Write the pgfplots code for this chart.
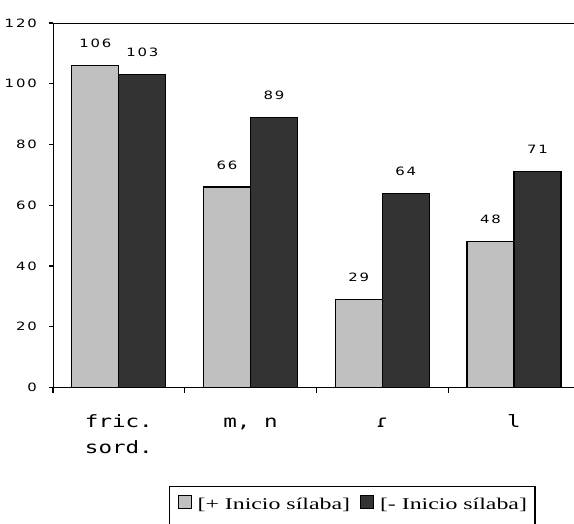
\documentclass[border=0pt]{standalone}
\usepackage{pgfplots}
\pgfplotsset{compat=1.18}
\usepackage{fontspec}
\setmainfont{Liberation Serif}
\newfontfamily\numfont[FakeStretch=1.3,LetterSpace=16]{DejaVu Sans}
\newfontfamily\catfont[FakeStretch=1.33]{DejaVu Sans Mono}
\newfontfamily\tapfont[FakeStretch=1.33]{DejaVu Sans}
\newfontfamily\legfont[FakeStretch=1.45]{Liberation Serif}
\definecolor{lightbar}{HTML}{C0C0C0}
\definecolor{darkbar}{HTML}{333333}
\begin{document}
\begin{tikzpicture}
\begin{axis}[
  at={(53bp,-387.5bp)}, anchor=south west,
  scale only axis, width=521bp, height=364.5bp,
  xmin=-0.5, xmax=3.456, ymin=0, ymax=120,
  ybar=0pt, bar width=47bp,
  axis line style={draw=none},
  /pgf/number format/assume math mode=true,
  tick align=outside,
  xtick pos=left, ytick pos=left,
  xtick={0,1,2,3},
  xticklabels={{\strut fric.\\sord.},{\strut m, n},{\strut{\tapfont ɾ}},{\strut l}},
  major x tick style={draw=none},
  minor xtick={-0.5,0.5,1.5,2.5},
  minor tick length=5bp,
  major tick length=4bp,
  tick style={line width=1.2bp, black},
  ytick={0,20,...,120},
  yticklabel style={font=\numfont\fontsize{11.5}{13}\selectfont, inner sep=0pt, xshift=-12bp},
  xticklabel style={font=\catfont\fontsize{17}{26}\selectfont, align=left, anchor=north, inner sep=0pt, yshift=-17.3bp},
  nodes near coords,
  every node near coord/.append style={font=\numfont\fontsize{11.5}{13}\selectfont, anchor=base, yshift=18bp, inner sep=0pt, black},
  legend columns=2,
  legend image code/.code={\draw[#1, draw=black, line width=1bp] (0bp,4bp) rectangle (13bp,17bp);},
  legend style={at={(rel axis cs:0.2226,-0.2702)}, anchor=north west, draw=black, line width=1.2bp,
    font=\legfont\fontsize{16.5}{19}\selectfont, inner xsep=8bp, inner ysep=6bp,
    nodes={inner sep=0pt, text height=17bp, text depth=22bp},
    /tikz/every odd column/.style={column sep=6bp},
    /tikz/every even column/.style={column sep=10bp}},
]
\addplot[fill=lightbar, draw=black, line width=1.2bp] coordinates {(0,106) (1,66) (2,29) (3,48)};
\addlegendentry{{[+ Inicio sílaba]}}
\addplot[fill=darkbar, draw=black, line width=1.2bp] coordinates {(0,103) (1,89) (2,64) (3,71)};
\addlegendentry{{[- Inicio sílaba]}}
\draw[line width=1.5bp] (rel axis cs:0,0) -- (rel axis cs:0,1) -- (rel axis cs:1,1);
\draw[line width=1.5bp] ([xshift=-4bp]rel axis cs:0,0) -- (rel axis cs:1,0);
\end{axis}
\pgfresetboundingbox
\useasboundingbox (0bp,0bp) rectangle (574bp,-524bp);
\end{tikzpicture}
\end{document}
